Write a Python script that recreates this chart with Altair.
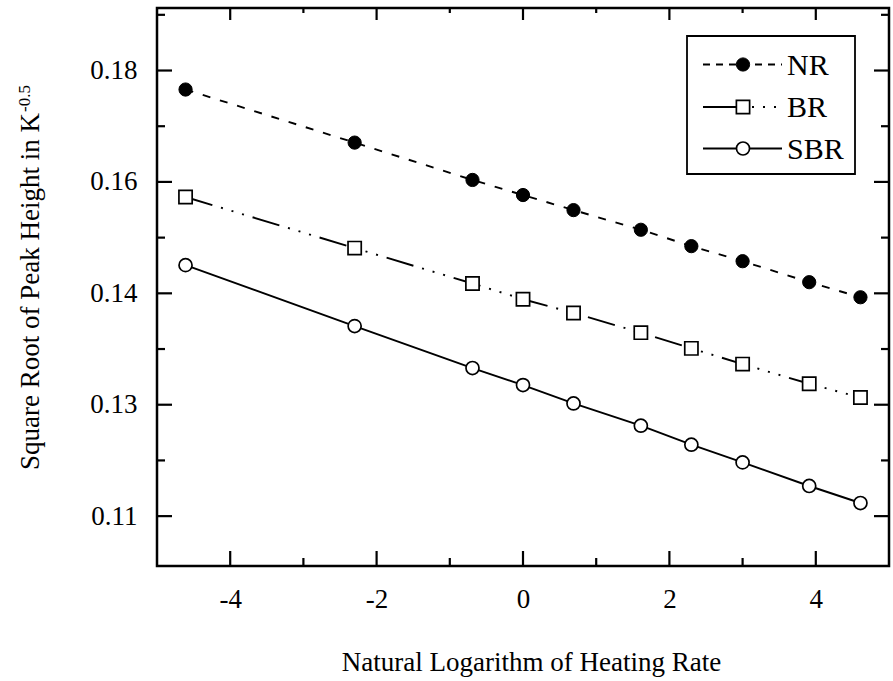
import altair as alt
import pandas as pd

# ---- data ----
ln_rate = [-4.61, -2.30, -0.69, 0.00, 0.69, 1.61, 2.30, 3.00, 3.91, 4.61]
nr = [0.1741, 0.1660, 0.1603, 0.1580, 0.1557, 0.1527, 0.1502, 0.1479, 0.1447, 0.1424]
br = [0.1577, 0.1499, 0.1445, 0.1421, 0.1400, 0.1370, 0.1346, 0.1322, 0.1292, 0.1271]
sbr = [0.1473, 0.1380, 0.1316, 0.1290, 0.1262, 0.1228, 0.1199, 0.1172, 0.1136, 0.1110]
series_names = ["NR", "BR", "SBR"]

x_major = [-4, -2, 0, 2, 4]
x_minor = [-3, -1, 1, 3]
y_major = [0.109, 0.126, 0.143, 0.160, 0.177]   # labelled 0.11 0.13 0.14 0.16 0.18
y_minor = [0.1175, 0.1345, 0.1515, 0.1685, 0.1855]

x_domain = [-5, 5]
y_domain = [0.10139, 0.18654]

x_title = "Natural Logarithm of Heating Rate"
y_title = "Square Root of Peak Height in K"
y_title_sup = "-0.5"

W, H = 732, 558
FONT = "Liberation Serif"
FS = 27

frames = []
for name, vals in zip(series_names, [nr, br, sbr]):
    frames.append(pd.DataFrame({"x": ln_rate, "y": vals, "series": name}))
df = pd.concat(frames, ignore_index=True)

xscale = alt.Scale(domain=x_domain, nice=False, zero=False)
yscale = alt.Scale(domain=y_domain, nice=False, zero=False)

x_axis = alt.Axis(values=x_major, ticks=False, tickSize=0, domain=False, grid=False,
                  labelExpr="(datum.value < 0 ? '-' : '') + abs(datum.value)",
                  labelFont=FONT, labelFontSize=FS, labelColor="black", labelPadding=20,
                  titleFont=FONT, titleFontSize=FS, titleFontWeight="normal", titleColor="black",
                  titleX=374, titleY=104, titleBaseline="alphabetic", titleAlign="center")
y_axis = alt.Axis(values=y_major, format=".2f", ticks=False, tickSize=0, domain=False, grid=False,
                  labelFont=FONT, labelFontSize=FS, labelColor="black", labelPadding=20,
                  titleFont=FONT, titleFontSize=FS, titleFontWeight="normal", titleColor="black",
                  titleX=-119, titleY=283, titleAngle=270, titleBaseline="alphabetic",
                  titleAlign="center")

X = alt.X("x:Q", scale=xscale, axis=x_axis, title=x_title)
Y = alt.Y("y:Q", scale=yscale, axis=y_axis, title=y_title)

layers = []

# data lines
dashes = {"NR": [8, 10], "BR": [28, 9, 2, 9, 2, 9, 2, 9], "SBR": None}
for name in series_names:
    sub = df[df.series == name]
    kw = dict(color="black", strokeWidth=1.9)
    if dashes[name]:
        kw["strokeDash"] = dashes[name]
    layers.append(alt.Chart(sub).mark_line(**kw).encode(x=X, y=Y))

# markers
marker_style = {
    "NR": dict(shape="circle", filled=True, fill="black", stroke="black", size=175, strokeWidth=1),
    "BR": dict(shape="square", filled=True, fill="white", stroke="black", size=175, strokeWidth=1.7),
    "SBR": dict(shape="circle", filled=True, fill="white", stroke="black", size=170, strokeWidth=1.7),
}
for name in series_names:
    sub = df[df.series == name]
    layers.append(alt.Chart(sub).mark_point(opacity=1, **marker_style[name]).encode(x=X, y=Y))

# inward ticks on all four sides
MAJ, MIN = 15, 8
xmaj = pd.DataFrame({"x": x_major})
xmin = pd.DataFrame({"x": x_minor})
ymaj = pd.DataFrame({"y": y_major})
ymin = pd.DataFrame({"y": y_minor})
tick = dict(color="black", strokeWidth=2.2)
for d, L in [(xmaj, MAJ), (xmin, MIN)]:
    layers.append(alt.Chart(d).mark_rule(**tick).encode(x=X, y=alt.value(H), y2=alt.value(H - L)))
    layers.append(alt.Chart(d).mark_rule(**tick).encode(x=X, y=alt.value(0), y2=alt.value(L - 3)))
for d, L in [(ymaj, MAJ), (ymin, MIN)]:
    layers.append(alt.Chart(d).mark_rule(**tick).encode(y=Y, x=alt.value(0), x2=alt.value(L)))
    layers.append(alt.Chart(d).mark_rule(**tick).encode(y=Y, x=alt.value(W), x2=alt.value(W - L)))

dummy = pd.DataFrame({"k": [0]})

# superscript of the y-axis title
layers.append(alt.Chart(dummy).mark_text(angle=270, align="left", baseline="alphabetic",
                                         font=FONT, fontSize=17, color="black").encode(
    x=alt.value(-127), y=alt.value(104), text=alt.value(y_title_sup)))

# legend box
layers.append(alt.Chart(dummy).mark_rect(fill="white", stroke="black", strokeWidth=1.8).encode(
    x=alt.value(530), x2=alt.value(698), y=alt.value(28), y2=alt.value(166)))

leg_y = {"NR": 56.5, "BR": 99.0, "SBR": 140.5}
LX0, LX1, SX, TX = 546, 625, 586, 630
lw = dict(color="black", strokeWidth=1.9)
# NR: dashed both sides
layers.append(alt.Chart(dummy).mark_rule(strokeDash=[7, 6], **lw).encode(
    x=alt.value(LX0), x2=alt.value(LX1), y=alt.value(leg_y["NR"])))
# BR: solid left, dotted right
layers.append(alt.Chart(dummy).mark_rule(**lw).encode(
    x=alt.value(LX0), x2=alt.value(SX), y=alt.value(leg_y["BR"])))
layers.append(alt.Chart(dummy).mark_rule(strokeDash=[2, 9], **lw).encode(
    x=alt.value(SX + 9), x2=alt.value(LX1), y=alt.value(leg_y["BR"])))
# SBR: solid
layers.append(alt.Chart(dummy).mark_rule(**lw).encode(
    x=alt.value(LX0), x2=alt.value(LX1), y=alt.value(leg_y["SBR"])))
for name in series_names:
    layers.append(alt.Chart(dummy).mark_point(opacity=1, **marker_style[name]).encode(
        x=alt.value(SX), y=alt.value(leg_y[name])))
    layers.append(alt.Chart(dummy).mark_text(align="left", baseline="alphabetic", font=FONT,
                                             fontSize=30, color="black").encode(
        x=alt.value(TX), y=alt.value(leg_y[name] + 10), text=alt.value(name)))

chart = alt.layer(*layers).properties(
    width=W, height=H,
    padding={"left": 157, "top": 8, "right": 4, "bottom": 115},
    autosize=alt.AutoSizeParams(type="none"),
    background="white",
).configure_view(stroke="black", strokeWidth=2.5)

chart.save("out.html", embed_options={"renderer": "svg", "actions": False})
